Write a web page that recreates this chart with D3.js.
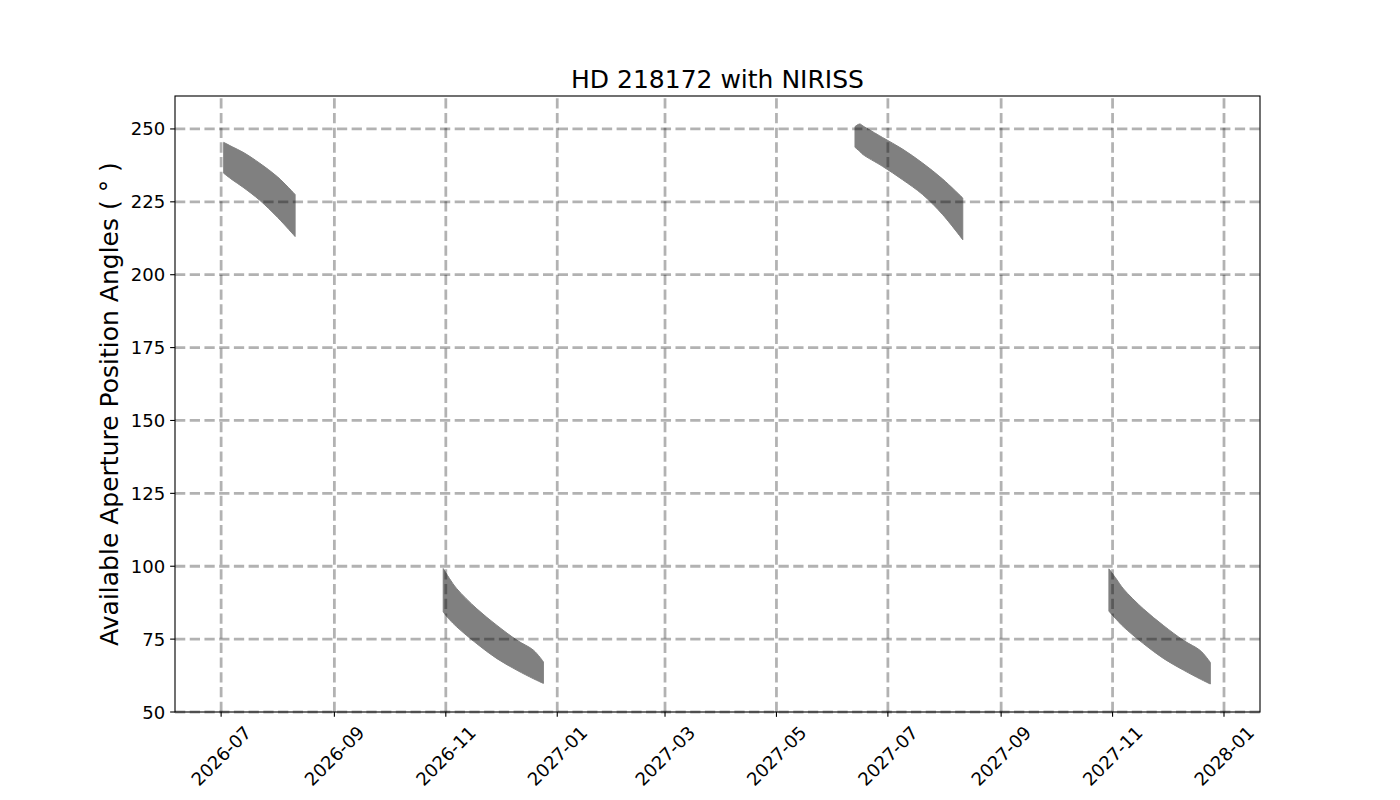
<!DOCTYPE html>
<html>
<head>
<meta charset="utf-8">
<script src="https://cdn.jsdelivr.net/npm/d3@7"></script>
<style>
  html, body { margin: 0; padding: 0; background: #fff; }
  svg { display: block; font-family: "DejaVu Sans", sans-serif; }
</style>
</head>
<body>
<svg id="chart" width="1400" height="800"></svg>
<script>
// ---------------- data ----------------
const titleText = "HD 218172 with NIRISS";
const yLabelText = "Available Aperture Position Angles ( \u00b0 )";

const xTickDates = ["2026-07-01","2026-09-01","2026-11-01","2027-01-01","2027-03-01",
                    "2027-05-01","2027-07-01","2027-09-01","2027-11-01","2028-01-01"];
const yTicks = [50, 75, 100, 125, 150, 175, 200, 225, 250];
const xDomain = ["2026-06-05T18:00", "2028-01-20T17:00"];
const yDomain = [50, 261.3];

const window1Dates = ["2026-07-02T10:00","2026-07-07","2026-07-13","2026-07-22","2026-08-01","2026-08-10T12:00"];
const window1Max   = [245.4, 243.9, 242.0, 238.3, 233.5, 227.5];
const window1Min   = [234.8, 232.6, 230.0, 225.6, 219.6, 213.1];

const window2Dates = ["2026-10-30T14:00","2026-11-03","2026-11-07","2026-11-18","2026-11-29","2026-12-10","2026-12-19","2026-12-24T10:00"];
const window2Max   = [99.2, 95.8, 92.3, 85.4, 79.7, 74.6, 71.2, 67.2];
const window2Min   = [84.3, 81.7, 79.2, 73.4, 68.3, 64.3, 61.4, 59.8];

const window3Dates = ["2027-06-13","2027-06-15T14:00","2027-06-17T10:00","2027-06-28","2027-07-09","2027-07-20","2027-07-31","2027-08-11"];
const window3Max   = [250.8, 251.7, 251.0, 247.1, 243.1, 238.3, 232.8, 226.3];
const window3Min   = [243.7, 242.3, 241.2, 237.2, 232.6, 227.5, 220.6, 212.0];

const window4Dates = ["2027-10-30","2027-11-03","2027-11-07","2027-11-18","2027-11-29","2027-12-10","2027-12-19","2027-12-24T12:00"];
const window4Max   = [99.1, 95.7, 92.2, 85.3, 79.6, 74.5, 71.1, 67.0];
const window4Min   = [84.6, 81.8, 79.2, 73.4, 68.3, 64.3, 61.3, 59.6];

// ---------------- layout ----------------
const W = 1400, H = 800;
const plot = { left: 175, right: 1260, top: 96, bottom: 712 };
const tickLen = 4.86, tickPad = 4.86;
const tickFont = 18.06, labelFont = 25;

const svg = d3.select("#chart");
const parse = s => new Date(s);

const x = d3.scaleTime().domain(xDomain.map(parse)).range([plot.left, plot.right]);
const y = d3.scaleLinear().domain(yDomain).range([plot.bottom, plot.top]);

// bands
const windows = [
  [window1Dates, window1Max, window1Min],
  [window2Dates, window2Max, window2Min],
  [window3Dates, window3Max, window3Min],
  [window4Dates, window4Max, window4Min]
];
const area = d3.area()
  .x(d => x(d.date))
  .y0(d => y(d.min))
  .y1(d => y(d.max))
  .curve(d3.curveCatmullRom.alpha(0.5));

const bandG = svg.append("g");
windows.forEach(([dates, mx, mn]) => {
  const rows = dates.map((d, i) => ({ date: parse(d), max: mx[i], min: mn[i] }));
  bandG.append("path")
    .datum(rows)
    .attr("d", area)
    .attr("fill", "#808080")
    .attr("stroke", "#808080")
    .attr("stroke-width", 1)
    .attr("stroke-linejoin", "round");
});

// grid (on top, semi-transparent)
const gridG = svg.append("g")
  .attr("stroke", "rgba(0,0,0,0.3)")
  .attr("stroke-width", 2.78)
  .attr("stroke-dasharray", "10.28,4.44")
  .attr("fill", "none");
xTickDates.forEach(s => {
  const px = x(parse(s));
  gridG.append("line").attr("x1", px).attr("x2", px)
    .attr("y1", plot.bottom).attr("y2", plot.top);
});
yTicks.forEach(v => {
  const py = y(v);
  gridG.append("line").attr("x1", plot.left).attr("x2", plot.right)
    .attr("y1", py).attr("y2", py);
});

// spines
svg.append("rect")
  .attr("x", plot.left).attr("y", plot.top)
  .attr("width", plot.right - plot.left).attr("height", plot.bottom - plot.top)
  .attr("fill", "none").attr("stroke", "#000").attr("stroke-width", 1.11);

// y axis ticks
const yAxisG = svg.append("g");
yTicks.forEach(v => {
  const py = y(v);
  yAxisG.append("line").attr("x1", plot.left - tickLen).attr("x2", plot.left)
    .attr("y1", py).attr("y2", py).attr("stroke", "#000").attr("stroke-width", 1.11);
  yAxisG.append("text")
    .attr("x", plot.left - tickLen - tickPad).attr("y", py)
    .attr("text-anchor", "end").attr("dominant-baseline", "central")
    .attr("font-size", tickFont).attr("fill", "#000")
    .text(d3.format("d")(v));
});

// x axis ticks
const fmt = d3.timeFormat("%Y-%m");
const xAxisG = svg.append("g");
xTickDates.forEach(s => {
  const px = x(parse(s));
  xAxisG.append("line").attr("x1", px).attr("x2", px)
    .attr("y1", plot.bottom).attr("y2", plot.bottom + tickLen)
    .attr("stroke", "#000").attr("stroke-width", 1.11);
  const t = xAxisG.append("text")
    .attr("text-anchor", "middle").attr("dominant-baseline", "central")
    .attr("font-size", tickFont).attr("fill", "#000")
    .text(fmt(parse(s)));
  const w = t.node().getComputedTextLength();
  const h = tickFont * 1.17;
  const bh = (w + h) * Math.SQRT1_2;
  const cy = plot.bottom + tickLen + tickPad + bh / 2;
  t.attr("transform", `translate(${px},${cy}) rotate(-45)`);
});

// title
svg.append("text")
  .attr("x", (plot.left + plot.right) / 2).attr("y", 88)
  .attr("text-anchor", "middle")
  .attr("font-size", labelFont).attr("fill", "#000")
  .text(titleText);

// y label
svg.append("text")
  .attr("transform", `translate(117.5,${(plot.top + plot.bottom) / 2}) rotate(-90)`)
  .attr("text-anchor", "middle")
  .attr("font-size", labelFont).attr("fill", "#000")
  .text(yLabelText);
</script>
</body>
</html>
